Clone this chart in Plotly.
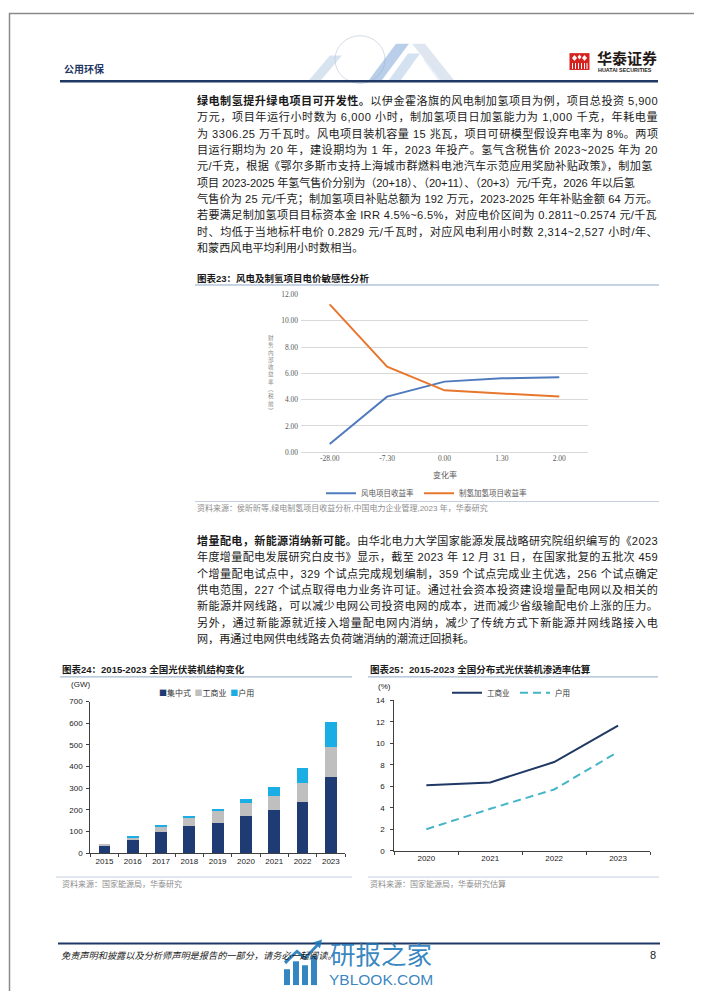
import plotly.graph_objects as go

W, H = 702, 991


def X(p):
    return p / W


def Y(p):
    return 1 - p / H


SANS = "Liberation Sans, Noto Sans CJK SC"
SERIF = "Liberation Serif, Noto Sans CJK SC"
CJK = "Noto Sans CJK SC, Liberation Sans"

# ---------------- data ----------------
sens_categories = ["-28.00", "-7.30", "0.00", "1.30", "2.00"]
wind_irr = [0.63, 4.23, 5.37, 5.62, 5.70]
h2_irr = [11.24, 6.50, 4.71, 4.49, 4.23]
sens_names = ["风电项目收益率", "制氢加氢项目收益率"]

pv_years = ["2015", "2016", "2017", "2018", "2019", "2020", "2021", "2022", "2023"]
pv_central = [37, 67, 100, 124, 141, 173, 201, 235, 354]
pv_ci = [5, 9, 25, 44, 54, 60, 64, 91, 136]
pv_res = [0, 1, 6, 6, 10, 19, 41, 67, 118]
pv_names = ["集中式", "工商业", "户用"]

pen_years = ["2020", "2021", "2022", "2023"]
pen_ci = [6.1, 6.35, 8.25, 11.65]
pen_res = [2.0, 3.9, 5.7, 9.2]
pen_names = ["工商业", "户用"]

para1 = [
    "<b>绿电制氢提升绿电项目可开发性。</b>以伊金霍洛旗的风电制加氢项目为例，项目总投资 5,900",
    "万元，项目年运行小时数为 6,000 小时，制加氢项目日加氢能力为 1,000 千克，年耗电量",
    "为 3306.25 万千瓦时。风电项目装机容量 15 兆瓦，项目可研模型假设弃电率为 8%。两项",
    "目运行期均为 20 年，建设期均为 1 年，2023 年投产。氢气含税售价 2023~2025 年为 20",
    "元/千克，根据《鄂尔多斯市支持上海城市群燃料电池汽车示范应用奖励补贴政策》，制加氢",
    "项目 2023-2025 年氢气售价分别为（20+18）、（20+11）、（20+3）元/千克，2026 年以后氢",
    "气售价为 25 元/千克；制加氢项目补贴总额为 192 万元，2023-2025 年年补贴金额 64 万元。",
    "若要满足制加氢项目目标资本金 IRR 4.5%~6.5%，对应电价区间为 0.2811~0.2574 元/千瓦",
    "时、均低于当地标杆电价 0.2829 元/千瓦时，对应风电利用小时数 2,314~2,527 小时/年、",
    "和蒙西风电平均利用小时数相当。",
]
para2 = [
    "<b>增量配电，新能源消纳新可能。</b>由华北电力大学国家能源发展战略研究院组织编写的《2023",
    "年度增量配电发展研究白皮书》显示，截至 2023 年 12 月 31 日，在国家批复的五批次 459",
    "个增量配电试点中，329 个试点完成规划编制，359 个试点完成业主优选，256 个试点确定",
    "供电范围，227 个试点取得电力业务许可证。通过社会资本投资建设增量配电网以及相关的",
    "新能源并网线路，可以减少电网公司投资电网的成本，进而减少省级输配电价上涨的压力。",
    "另外，通过新能源就近接入增量配电网内消纳，减少了传统方式下新能源并网线路接入电",
    "网，再通过电网供电线路去负荷端消纳的潮流迂回损耗。",
]

# ---------------- colours ----------------
C_WIND = "#4F7BBE"
C_H2 = "#E8772E"
C_CENTRAL = "#1F3B73"
C_CI = "#BFBFBF"
C_RES = "#1AAEE5"
C_PEN_CI = "#1F3864"
C_PEN_RES = "#45B5C8"
NAVY = "#1F3864"

fig = go.Figure()

# chart 23
fig.add_trace(go.Scatter(x=sens_categories, y=wind_irr, mode="lines", name=sens_names[0],
                         line=dict(color=C_WIND, width=2), xaxis="x", yaxis="y", legend="legend"))
fig.add_trace(go.Scatter(x=sens_categories, y=h2_irr, mode="lines", name=sens_names[1],
                         line=dict(color=C_H2, width=2), xaxis="x", yaxis="y", legend="legend"))

# chart 24
for vals, nm, col in zip([pv_central, pv_ci, pv_res], pv_names, [C_CENTRAL, C_CI, C_RES]):
    fig.add_trace(go.Bar(x=pv_years, y=vals, name=nm, marker=dict(color=col, line=dict(width=0)),
                         xaxis="x2", yaxis="y2", showlegend=False))

# chart 25
fig.add_trace(go.Scatter(x=pen_years, y=pen_ci, mode="lines", name=pen_names[0],
                         line=dict(color=C_PEN_CI, width=2), xaxis="x3", yaxis="y3", legend="legend2"))
fig.add_trace(go.Scatter(x=pen_years, y=pen_res, mode="lines", name=pen_names[1],
                         line=dict(color=C_PEN_RES, width=2, dash="8px,5px"), xaxis="x3", yaxis="y3",
                         legend="legend2"))

# ---------------- text helpers ----------------
annotations = []


def txt(x, y, text, size, color="#1a1a1a", family=SANS, xanchor="left", **kw):
    annotations.append(dict(x=X(x), y=Y(y), xref="paper", yref="paper", text=text, showarrow=False,
                            xanchor=xanchor, yanchor="middle", align="left",
                            font=dict(size=size, color=color, family=family), **kw))


def est_width(s, fs):
    import re
    s = re.sub(r"<[^>]+>", "", s)
    w = 0.0
    for ch in s:
        o = ord(ch)
        if o >= 0x2E80:
            w += 1.0
        elif ch.isdigit():
            w += 0.556
        elif ch in " ,./I":
            w += 0.278
        elif ch == "%":
            w += 0.889
        elif ch in "~+":
            w += 0.584
        elif ch in "-()":
            w += 0.333
        elif ch == "R":
            w += 0.722
        else:
            w += 0.6
    return w * fs, len(s)


BODY_FS = 11.1
BODY_L, BODY_R = 187, 648


def paragraph(lines, y0, step):
    for i, line in enumerate(lines):
        y = y0 + i * step
        if i < len(lines) - 1:
            w, n = est_width(line, BODY_FS)
            ls = (BODY_R - BODY_L - w) / max(n - 1, 1)
            ls = max(min(ls, 3.0), -0.5)
            t = f"<span style='letter-spacing:{ls:.2f}px'>{line}</span>"
        else:
            t = line
        txt(BODY_L, y, t, BODY_FS, "#1a1a1a", SANS)


paragraph(para1, 89.5, 16.45)
paragraph(para2, 533.5, 16.45)

# header
txt(54, 57, "<b>公用环保</b>", 10, NAVY, CJK)
txt(587, 46, "<b>华泰证券</b>", 15, "#231815", CJK)
txt(588, 59, "<b>HUATAI SECURITIES</b>", 5.4, "#231815", SANS)

# chart titles & sources
txt(187, 269, "<b>图表23：风电及制氢项目电价敏感性分析</b>", 9.5, "#1a1a1a", SANS)
txt(187, 501, "资料来源：侯昕昕等,绿电制氢项目收益分析,中国电力企业管理,2023 年，华泰研究", 8, "#8C8C8C", SANS)
txt(52, 664, "<b>图表24：2015-2023 全国光伏装机结构变化</b>", 9.5, "#1a1a1a", SANS)
txt(360, 664, "<b>图表25：2015-2023 全国分布式光伏装机渗透率估算</b>", 9.5, "#1a1a1a", SANS)
txt(52, 880, "资料来源：国家能源局，华泰研究", 8, "#8C8C8C", SANS)
txt(360, 880, "资料来源：国家能源局，华泰研究估算", 8, "#8C8C8C", SANS)

# chart 23 axis titles
txt(436.5, 467.5, "变化率", 8, "#595959", SERIF, xanchor="center")
ytitle = "<br>".join(list("财务内部收益率") + ["︵", "税", "前", "︶"])
txt(263, 366, ytitle, 5.6, "#8C8C8C", CJK, xanchor="center")

# chart 24 unit + legend
txt(72, 679, "(GW)", 8, "#1a1a1a", SANS, xanchor="center")
leg24 = (f"<span style='color:{C_CENTRAL}'>■</span>{pv_names[0]}  "
         f"<span style='color:{C_CI}'>■</span>{pv_names[1]}  "
         f"<span style='color:{C_RES}'>■</span>{pv_names[2]}")
txt(148.5, 687, leg24, 8, "#333333", CJK)

# chart 25 unit
txt(376.5, 681, "(%)", 8, "#1a1a1a", SANS, xanchor="center")

# footer
txt(51, 952, "<i>免责声明和披露以及分析师声明是报告的一部分，请务必一起阅读。</i>", 9.2, "#1a1a1a", CJK)
txt(650, 952, "8", 11, "#1a1a1a", SANS, xanchor="right")

# watermark
txt(373, 949, "研报之家", 25.5, "rgba(30,120,185,0.9)", CJK, xanchor="center")
txt(373, 976, "YBLOOK.COM", 15.5, "rgba(30,120,185,0.9)", SANS, xanchor="center")

# ---------------- shapes ----------------
shapes = []


def line(x0, y0, x1, y1, color, width=1):
    shapes.append(dict(type="line", xref="paper", yref="paper", x0=X(x0), y0=Y(y0), x1=X(x1), y1=Y(y1),
                       line=dict(color=color, width=width)))


def rect(x0, y0, x1, y1, fill, lc=None, lw=0, opacity=1):
    shapes.append(dict(type="rect", xref="paper", yref="paper", x0=X(x0), y0=Y(y0), x1=X(x1), y1=Y(y1),
                       fillcolor=fill, line=dict(color=lc or fill, width=lw), opacity=opacity))


def path(pts, fill, opacity=1, lc=None, lw=0):
    d = "M " + " L ".join(f"{X(a):.5f},{Y(b):.5f}" for a, b in pts) + " Z"
    shapes.append(dict(type="path", xref="paper", yref="paper", path=d, fillcolor=fill,
                       line=dict(color=lc or fill, width=lw), opacity=opacity))


# page border
rect(1.5, 1.5, 700.5, 989.5, "rgba(0,0,0,0)", "#8a8a8a", 1.5)

# header decoration (globe + stripes)
shapes.append(dict(type="circle", xref="paper", yref="paper", x0=X(327), y0=Y(72), x1=X(377), y1=Y(24),
                   line=dict(color="#D5DCE6", width=1), fillcolor="rgba(0,0,0,0)"))
path([(300, 70), (312, 70), (334, 44), (322, 44)], "#B8CCE4", 0.55)
path([(360, 70), (373, 70), (401, 32), (388, 32)], "#7FA6D6", 0.55)
path([(380, 70), (392, 70), (412, 42), (400, 42)], "#A9C3E3", 0.5)
path([(404, 32), (417, 32), (447, 70), (434, 70)], "#C9D6E6", 0.6)
path([(415, 48), (424, 48), (440, 70), (431, 70)], "#DCE5F0", 0.6)

# header line
line(52, 70, 650, 70, NAVY, 2.5)

# logo icon
rect(561.5, 41.5, 581.5, 58.5, "#D7231F")
path([(566.5, 43.5), (569, 46.5), (566.5, 49.5), (564, 46.5)], "white")
path([(576.5, 43.5), (579, 46.5), (576.5, 49.5), (574, 46.5)], "white")
path([(571.5, 43), (573.5, 45.5), (571.5, 48), (569.5, 45.5)], "white")
for xx in [564.5, 567.5, 570.5, 573.5, 576.5, 579]:
    line(xx, 51.5, xx, 57.5, "white", 1)

# chart title underlines
line(187, 275.5, 651, 275.5, "#8FA8C8", 1)
line(52, 671, 344, 671, "#8FA8C8", 1)
line(360, 671, 650, 671, "#8FA8C8", 1)
# source separators
line(187, 494, 651, 494, "#C5CFDD", 1)
line(48, 873, 344, 873, "#C5CFDD", 1)
line(360, 873, 651, 873, "#C5CFDD", 1)

# footer line
line(50, 940, 652, 940, NAVY, 2)

# watermark icon
WM = "rgba(30,120,185,0.9)"
rect(276, 966, 282, 982, WM)
rect(285, 958, 291, 982, WM)
rect(294, 962, 300, 982, WM)
rect(303, 952, 309, 982, WM)
path([(276, 958), (289, 946), (297, 953), (308, 941), (305, 939), (314, 936), (312, 945), (310, 943),
      (297, 957), (289, 950), (278, 961)], WM)

# ---------------- layout ----------------
fig.update_layout(
    width=W, height=H, autosize=False,
    margin=dict(l=0, r=0, t=0, b=0, pad=0),
    paper_bgcolor="white", plot_bgcolor="rgba(0,0,0,0)",
    barmode="stack", bargap=0.585,
    showlegend=True,
    annotations=annotations, shapes=shapes,
    # chart 23
    xaxis=dict(domain=[X(293), X(580)], anchor="y", type="category", categoryorder="array",
               categoryarray=sens_categories, range=[-0.5, 4.5], showgrid=False, showline=False,
               zeroline=False, ticks="", tickfont=dict(size=7.5, color="#595959", family=SERIF),
               fixedrange=True),
    yaxis=dict(domain=[Y(444.3), Y(285)], anchor="x", range=[0, 12], dtick=2, tickformat=".2f",
               showgrid=True, gridcolor="#D9D9D9", gridwidth=1, zeroline=True, zerolinecolor="#D9D9D9",
               zerolinewidth=1, showline=False, ticks="", ticklabelstandoff=2,
               tickfont=dict(size=7.5, color="#595959", family=SERIF)),
    # chart 24
    xaxis2=dict(domain=[X(82.3), X(337)], anchor="y2", type="category", categoryorder="array",
                categoryarray=pv_years, showgrid=False, showline=True, linecolor="#404040", linewidth=1,
                ticks="outside", ticklen=3, tickcolor="#404040", tickson="boundaries",
                tickfont=dict(size=8, color="#1a1a1a", family=SANS), zeroline=False),
    yaxis2=dict(domain=[Y(849), Y(696)], anchor="x2", range=[0, 700], dtick=100, showgrid=False,
                showline=True, linecolor="#404040", linewidth=1, ticks="outside", ticklen=3,
                tickcolor="#404040", zeroline=False, ticklabelstandoff=2,
                tickfont=dict(size=8, color="#1a1a1a", family=SANS)),
    # chart 25
    xaxis3=dict(domain=[X(386.4), X(642)], anchor="y3", type="category", categoryorder="array",
                categoryarray=pen_years, range=[-0.5, 3.5], showgrid=False, showline=True,
                linecolor="#404040", linewidth=1, ticks="outside", ticklen=3, tickcolor="#404040",
                tickson="boundaries", tickfont=dict(size=8, color="#1a1a1a", family=SANS), zeroline=False),
    yaxis3=dict(domain=[Y(846.4), Y(694.6)], anchor="x3", range=[0, 14], dtick=2, showgrid=False,
                showline=True, linecolor="#404040", linewidth=1, ticks="outside", ticklen=3,
                tickcolor="#404040", zeroline=False, ticklabelstandoff=4,
                tickfont=dict(size=8, color="#1a1a1a", family=SANS)),
    legend=dict(orientation="h", x=X(418.5), xanchor="center", y=Y(485.7), yanchor="middle",
                font=dict(size=7.5, color="#595959", family=SERIF), itemwidth=30, traceorder="normal",
                bgcolor="rgba(0,0,0,0)", borderwidth=0),
    legend2=dict(orientation="h", x=X(503), xanchor="center", y=Y(687), yanchor="middle",
                 font=dict(size=7.5, color="#333333", family=CJK), itemwidth=30, traceorder="normal",
                 bgcolor="rgba(0,0,0,0)", borderwidth=0),
    hovermode=False,
)

fig.write_html("out.html")
